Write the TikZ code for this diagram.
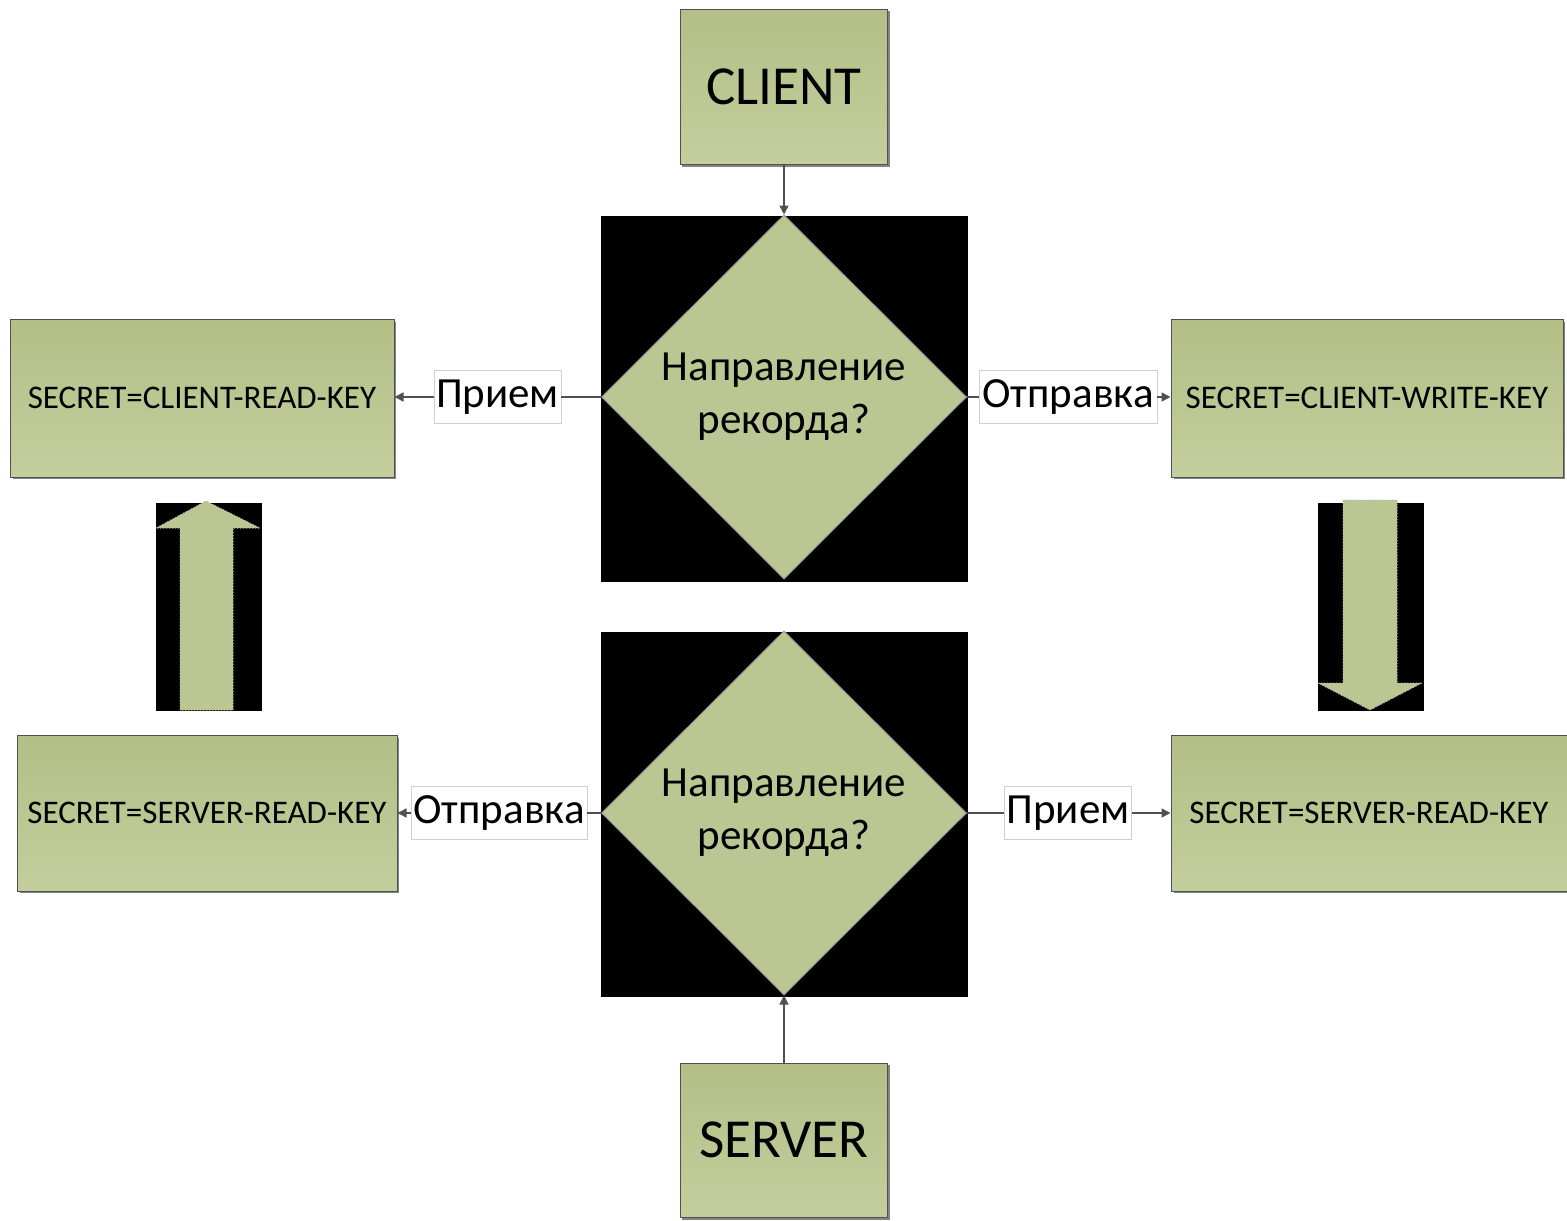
\documentclass[tikz,border=0pt]{standalone}
\usepackage{fontspec}
\setmainfont{Carlito}
\usetikzlibrary{shapes.geometric,arrows.meta}

\definecolor{boxtop}{HTML}{B3BF86}
\definecolor{boxbot}{HTML}{C3CE9D}
\definecolor{leaf}{HTML}{BBC792}
\definecolor{edge}{HTML}{505050}
\definecolor{lblrim}{HTML}{D0D0D0}

\tikzset{
  greenbox/.style={draw=edge, line width=1pt, top color=boxtop, bottom color=boxbot,
    inner sep=0pt, text=black},
  keybox/.style={greenbox, font=\fontsize{33}{38}\selectfont},
  endbox/.style={greenbox, minimum width=207pt, font=\fontsize{55}{60}\selectfont},
  boxshadow/.style={fill=edge!70!white},
  blackpad/.style={fill=black, inner sep=0pt},
  decision/.style={diamond, aspect=1, draw=gray!80, line width=1pt, fill=leaf,
    inner sep=0pt, align=center, font=\fontsize{43}{53}\selectfont},
  tag/.style={draw=lblrim, line width=0.8pt, fill=white, inner sep=2pt,
    minimum height=53pt, font=\fontsize{43}{48}\selectfont},
  link/.style={draw=edge, line width=1.5pt},
  linkarrow/.style={link, -{Triangle[length=9pt,width=9pt]}},
  bigarrow/.style={fill=leaf, draw=gray!60, line width=1pt, dotted},
}

\begin{document}
\begin{tikzpicture}[x=1pt, y=-1pt]
\useasboundingbox (0,0) rectangle (1567,1221);
\fill[white] (0,0) rectangle (1567,1221);

% drop shadows under the green boxes
\foreach \xa/\ya/\xb/\yb in {679/8/888/165, 10/319/394/477, 1171/319/1563/477,
    17/735/397/891, 1171/735/1567/891, 679/1062/888/1218}
  \fill[boxshadow] (\xa+3,\ya+3) rectangle (\xb+2,\yb+2);

% end points: client and server
\node[endbox, minimum height=155pt] (client) at (784,86.5) {CLIENT};
\node[endbox, minimum height=154pt] (server) at (784,1140) {SERVER};

% key boxes
\node[keybox, minimum width=384pt, minimum height=158pt] (cread) at (202,398) {SECRET=CLIENT-READ-KEY};
\node[keybox, minimum width=392pt, minimum height=158pt] (cwrite) at (1367,398) {SECRET=CLIENT-WRITE-KEY};
\node[keybox, minimum width=380pt, minimum height=156pt] (sreadL) at (207,813) {SECRET=SERVER-READ-KEY};
\node[keybox, minimum width=396pt, minimum height=156pt] (sreadR) at (1369,813) {SECRET=SERVER-READ-KEY};

% decisions on black pads
\node[blackpad, minimum width=367pt, minimum height=366pt] (padA) at (784.5,399) {};
\node[decision, minimum width=365pt, minimum height=364pt] (dA) at (784,397)
  {Направление\\рекорда?};
\node[blackpad, minimum width=367pt, minimum height=365pt] (padB) at (784.5,814.5) {};
\node[decision, minimum width=365pt, minimum height=364pt] (dB) at (784,813)
  {Направление\\рекорда?};

% branch labels
\node[tag, minimum width=127pt] (inA) at (497.5,397) {Прием};
\node[tag, minimum width=178pt] (outA) at (1068,397) {Отправка};
\node[tag, minimum width=176pt] (outB) at (499,813) {Отправка};
\node[tag, minimum width=126pt] (inB) at (1068,813) {Прием};

% connectors
\draw[linkarrow] (client.south) -- (dA.north);
\draw[linkarrow] (server.north) -- (dB.south);

\draw[link] (dA.west) -- (inA.east);
\draw[linkarrow] (inA.west) -- (inA.west -| cread.east);
\draw[link] (dA.east) -- (outA.west);
\draw[linkarrow] (outA.east) -- (outA.east -| cwrite.west);

\draw[link] (dB.west) -- (outB.east);
\draw[linkarrow] (outB.west) -- (outB.west -| sreadL.east);
\draw[link] (dB.east) -- (inB.west);
\draw[linkarrow] (inB.east) -- (inB.east -| sreadR.west);

% block arrows between the key boxes
\node[blackpad, minimum width=106pt, minimum height=208pt] (padUp) at (209,607) {};
\node[blackpad, minimum width=106pt, minimum height=208pt] (padDown) at (1371,607) {};
\draw[bigarrow] (180,710) -- (180,528) -- (156,528) -- (206,501) -- (260,528)
  -- (233,528) -- (233,710) -- cycle;
\draw[bigarrow] (1343,500) -- (1343,683) -- (1318,683) -- (1370,710) -- (1422,683)
  -- (1397,683) -- (1397,500) -- cycle;
\end{tikzpicture}
\end{document}
